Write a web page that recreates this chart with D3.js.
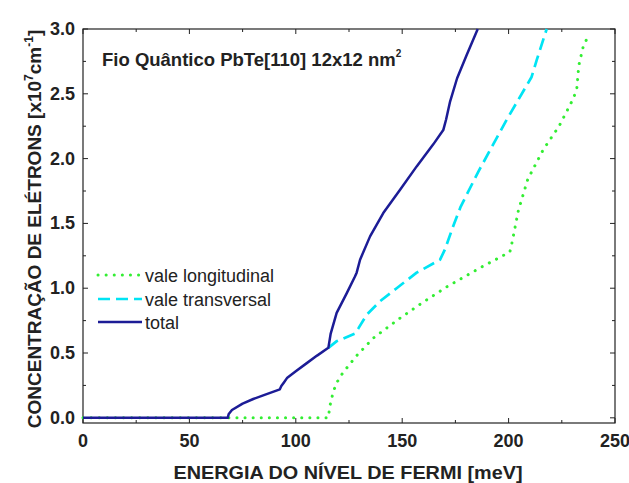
<!DOCTYPE html>
<html>
<head>
<meta charset="utf-8">
<script src="https://cdn.jsdelivr.net/npm/d3@7"></script>
<style>
  body { margin: 0; background: #fff; }
  text { font-family: "Liberation Sans", Arial, sans-serif; }
</style>
</head>
<body>
<div id="chart"></div>
<script>
// energy [meV] / concentration [x10^7 cm^-1]
const longitudinal = [
  [0, 0], [115.3, 0], [116, 0.09], [117.6, 0.2], [119.2, 0.27], [122, 0.345], [128.6, 0.48],
  [136.4, 0.615], [148.2, 0.76], [159.2, 0.885], [170.9, 1.01], [188, 1.17], [200.6, 1.28],
  [201.4, 1.335], [204.6, 1.60], [209, 1.84], [216.3, 2.07], [223.7, 2.25], [230, 2.45],
  [232, 2.53], [233, 2.72], [235.3, 2.88], [237.4, 2.94]
];
const transversal = [
  [115.3, 0.54], [119.1, 0.59], [127.8, 0.65], [129.4, 0.69], [133.3, 0.795], [139.6, 0.90],
  [147.4, 1.0], [156.8, 1.12], [167.8, 1.22], [170.1, 1.30], [174, 1.48], [177.5, 1.63],
  [185.8, 1.90], [199.1, 2.30], [210.8, 2.63], [213.2, 2.76], [217.9, 3.0]
];
const total = [
  [0, 0], [68, 0], [68.5, 0.03], [70, 0.06], [75, 0.11], [80, 0.145], [85, 0.175],
  [92.5, 0.22], [93.2, 0.245], [94.5, 0.275], [96, 0.31], [100, 0.36], [105, 0.42],
  [110, 0.48], [115.3, 0.54], [116.4, 0.65], [119.2, 0.81], [123.9, 0.96], [127.8, 1.09],
  [128.6, 1.12], [130.2, 1.22], [134.9, 1.40], [141.1, 1.58], [149, 1.76], [156.8, 1.94],
  [164.6, 2.11], [169.3, 2.22], [170.6, 2.30], [172.5, 2.44], [175.8, 2.62], [180.3, 2.80],
  [185.5, 3.0]
];
const xTicks = [0, 50, 100, 150, 200, 250];
const yTicks = [0, 0.5, 1.0, 1.5, 2.0, 2.5, 3.0];
const legendNames = ["vale longitudinal", "vale transversal", "total"];

const width = 629, height = 483;
const m = { left: 83, right: 615, top: 29, bottom: 423 };

const svg = d3.select("#chart").append("svg")
  .attr("width", width)
  .attr("height", height);

const x = d3.scaleLinear().domain([0, 250]).range([m.left, m.right]);
const y = d3.scaleLinear().domain([-0.04, 3.0]).range([m.bottom, m.top]);

// frame
svg.append("rect")
  .attr("x", m.left).attr("y", m.top)
  .attr("width", m.right - m.left).attr("height", m.bottom - m.top)
  .attr("fill", "none").attr("stroke", "#222").attr("stroke-width", 1.2);

// ticks pointing inward on all four sides
const xMinor = d3.range(0, 251, 25);
const yMinor = d3.range(0, 3.01, 0.25);
const tickG = svg.append("g").attr("stroke", "#222").attr("stroke-width", 1);
xMinor.forEach(v => {
  const len = v % 50 === 0 ? 5 : 3;
  tickG.append("line").attr("x1", x(v)).attr("x2", x(v)).attr("y1", m.bottom).attr("y2", m.bottom - len);
  tickG.append("line").attr("x1", x(v)).attr("x2", x(v)).attr("y1", m.top).attr("y2", m.top + len);
});
yMinor.forEach(v => {
  const len = Math.round(v * 100) % 50 === 0 ? 5 : 3;
  tickG.append("line").attr("y1", y(v)).attr("y2", y(v)).attr("x1", m.left).attr("x2", m.left + len);
  tickG.append("line").attr("y1", y(v)).attr("y2", y(v)).attr("x1", m.right).attr("x2", m.right - len);
});

// tick labels
svg.selectAll(".xl").data(xTicks).enter().append("text")
  .attr("x", d => x(d)).attr("y", 447)
  .attr("text-anchor", "middle")
  .attr("font-size", 18).attr("font-weight", "bold").attr("fill", "#222")
  .text(d => d);
svg.selectAll(".yl").data(yTicks).enter().append("text")
  .attr("x", m.left - 8).attr("y", d => y(d) + 6)
  .attr("text-anchor", "end")
  .attr("font-size", 18).attr("font-weight", "bold").attr("fill", "#222")
  .text(d => d.toFixed(1));

// axis titles
svg.append("text")
  .attr("x", 348).attr("y", 479)
  .attr("text-anchor", "middle")
  .attr("font-size", 19).attr("font-weight", "bold").attr("fill", "#222")
  .attr("textLength", 349).attr("lengthAdjust", "spacingAndGlyphs")
  .text("ENERGIA DO NÍVEL DE FERMI [meV]");

const yt = svg.append("text")
  .attr("transform", "translate(41,229) rotate(-90)")
  .attr("text-anchor", "middle")
  .attr("font-size", 19).attr("font-weight", "bold").attr("fill", "#222");
yt.append("tspan").text("CONCENTRAÇÃO DE ELÉTRONS [x10");
yt.append("tspan").attr("font-size", 12).attr("dy", -8).text("7");
yt.append("tspan").attr("dy", 8).text("cm");
yt.append("tspan").attr("font-size", 12).attr("dy", -8).text("-1");
yt.append("tspan").attr("dy", 8).text("]");

// title inside plot
const tt = svg.append("text")
  .attr("x", 102).attr("y", 66)
  .attr("font-size", 18.5).attr("font-weight", "bold").attr("fill", "#222");
tt.append("tspan").text("Fio Quântico PbTe[110] 12x12 nm");
tt.append("tspan").attr("font-size", 10).attr("dy", -9).text("2");

const line = d3.line().x(d => x(d[0])).y(d => y(d[1]));

const styles = [
  { data: longitudinal, color: "#33ee33", dash: "0.1 8", cap: "round", w: 3 },
  { data: transversal, color: "#00e4f4", dash: "12 6", cap: "butt", w: 2.7 },
  { data: total, color: "#1c1c96", dash: null, cap: "butt", w: 2.5 }
];

styles.forEach(s => {
  svg.append("path")
    .datum(s.data)
    .attr("fill", "none")
    .attr("stroke", s.color)
    .attr("stroke-width", s.w)
    .attr("stroke-linecap", s.cap)
    .attr("stroke-linejoin", "round")
    .attr("stroke-dasharray", s.dash)
    .attr("d", line);
});

// legend
const legY = [275, 299, 322];
styles.forEach((s, i) => {
  svg.append("line")
    .attr("x1", 98).attr("x2", 142)
    .attr("y1", legY[i]).attr("y2", legY[i])
    .attr("stroke", s.color)
    .attr("stroke-width", s.w)
    .attr("stroke-linecap", s.cap)
    .attr("stroke-dasharray", s.dash);
  svg.append("text")
    .attr("x", 145).attr("y", legY[i] + 7)
    .attr("font-size", 18).attr("fill", "#222")
    .text(legendNames[i]);
});
</script>
</body>
</html>
